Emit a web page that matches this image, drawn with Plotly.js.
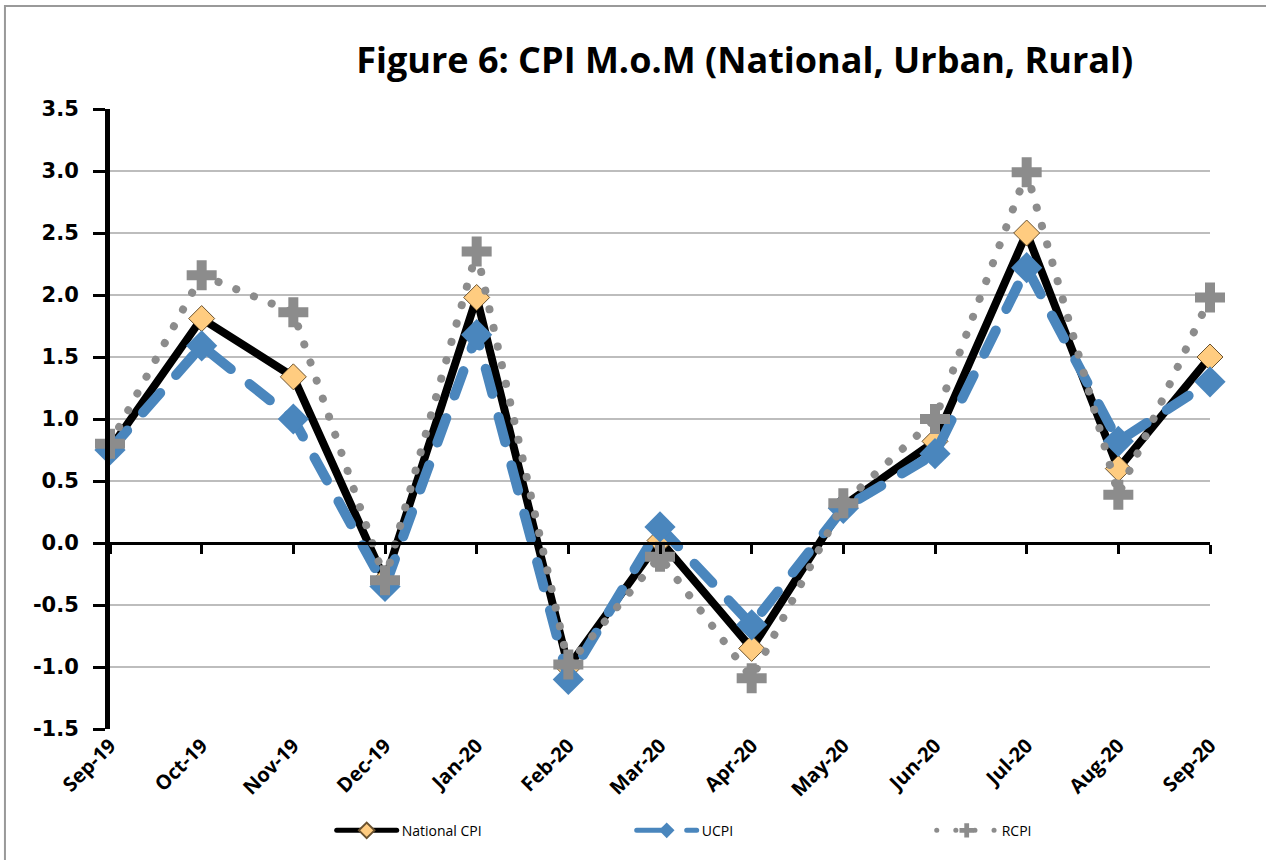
<!DOCTYPE html>
<html>
<head>
<meta charset="utf-8">
<script src="https://cdn.plot.ly/plotly-3.0.1.min.js"></script>
<style>
  html, body { margin: 0; padding: 0; background: #fff; }
  #chart { width: 1266px; height: 860px; }
  #chart .scatterlayer path.js-line { stroke-linecap: round; }
  #chart .legendlines path { stroke-linecap: round; }
</style>
</head>
<body>
<div id="chart"></div>
<script>
const months = ['Sep-19', 'Oct-19', 'Nov-19', 'Dec-19', 'Jan-20', 'Feb-20', 'Mar-20',
    'Apr-20', 'May-20', 'Jun-20', 'Jul-20', 'Aug-20', 'Sep-20'];

const nationalCpi = [0.76, 1.81, 1.34, -0.30, 1.98, -1.00, 0.02, -0.85, 0.30, 0.82, 2.50, 0.60, 1.50];
const urbanCpi = [0.75, 1.59, 1.00, -0.35, 1.68, -1.10, 0.13, -0.66, 0.28, 0.72, 2.22, 0.82, 1.30];
const ruralCpi = [0.80, 2.16, 1.86, -0.30, 2.35, -0.98, -0.11, -1.09, 0.32, 1.00, 2.99, 0.39, 1.98];

const yTicks = [-1.5, -1.0, -0.5, 0.0, 0.5, 1.0, 1.5, 2.0, 2.5, 3.0, 3.5];

const idx = months.map((_, i) => i);

const rural = {
    type: 'scatter',
    mode: 'lines+markers',
    name: 'RCPI',
    x: idx,
    y: ruralCpi,
    line: { color: '#8c8c8c', width: 8, dash: '0.1px,19px' },
    marker: { color: '#8c8c8c', symbol: 'cross', size: 25 },
    cliponaxis: false,
},
    urban = {
        type: 'scatter',
        mode: 'lines+markers',
        name: 'UCPI',
        x: idx,
        y: urbanCpi,
        line: { color: '#4a86bd', width: 10, dash: '26px,24px' },
        marker: { color: '#4a86bd', symbol: 'diamond', size: 24 },
        cliponaxis: false,
    },
    national = {
        type: 'scatter',
        mode: 'lines+markers',
        name: 'National CPI',
        x: idx,
        y: nationalCpi,
        line: { color: '#000000', width: 8 },
        marker: { color: '#ffcc80', symbol: 'diamond', size: 20, line: { color: '#6b5330', width: 1 } },
        cliponaxis: false,
    },
    // carries the tick marks drawn along the zero line
    zeroAxis = {
        type: 'scatter',
        mode: 'none',
        x: [0, 12],
        y: [0, 0],
        xaxis: 'x2',
        showlegend: false,
        hoverinfo: 'skip',
    };

const layout = {
    width: 1266,
    height: 860,
    margin: { l: 110, r: 56, t: 109, b: 131 },
    paper_bgcolor: '#ffffff',
    plot_bgcolor: '#ffffff',
    font: { family: 'Open Sans, DejaVu Sans, sans-serif', color: '#000' },
    title: {
        text: '<b>Figure 6: CPI M.o.M (National, Urban, Rural)</b>',
        font: { family: 'Open Sans, sans-serif', size: 36, color: '#000' },
        x: 0.577, xref: 'paper', xanchor: 'center',
        y: 0.93, yref: 'container', yanchor: 'middle',
    },
    xaxis: {
        range: [0, 12],
        automargin: false,
        tickmode: 'array',
        tickvals: idx,
        ticktext: months.map(m => `<b>${m}</b>`),
        tickangle: -45,
        tickfont: { family: 'Open Sans, sans-serif', size: 20, color: '#000' },
        showgrid: false,
        zeroline: false,
        showline: false,
        ticks: '',
        ticklen: 0,
    },
    xaxis2: {
        range: [0, 12],
        overlaying: 'x',
        anchor: 'free',
        position: 0.3,
        side: 'bottom',
        automargin: false,
        tickmode: 'array',
        tickvals: idx,
        ticks: 'outside',
        ticklen: 9,
        tickwidth: 3,
        tickcolor: '#000',
        showticklabels: false,
        showgrid: false,
        zeroline: false,
        showline: true,
        linecolor: '#000',
        linewidth: 3,
    },
    yaxis: {
        range: [-1.5, 3.5],
        automargin: false,
        tickmode: 'array',
        tickvals: yTicks,
        ticktext: yTicks.map(v => `<b>${v.toFixed(1)}</b>`),
        tickfont: { family: 'DejaVu Sans, sans-serif', size: 21, color: '#000' },
        ticklabelstandoff: 10,
        showgrid: true,
        gridcolor: '#bdbdbd',
        gridwidth: 2,
        zeroline: false,
        showline: true,
        linecolor: '#000',
        linewidth: 5,
        ticks: 'outside',
        ticklen: 12,
        tickwidth: 3,
        tickcolor: '#000',
    },
    showlegend: true,
    legend: {
        orientation: 'h',
        xref: 'container', yref: 'container',
        x: 0.262, xanchor: 'left',
        y: 0.034, yanchor: 'middle',
        traceorder: 'normal',
        entrywidth: 225,
        itemwidth: 60,
        itemsizing: 'constant',
        font: { family: 'Liberation Sans Narrow, Open Sans, sans-serif', size: 14, color: '#000' },
    },
    shapes: [{
        type: 'rect',
        xref: 'paper', yref: 'paper',
        x0: -0.0955, x1: 1.1,
        y0: -0.4, y1: 1.166,
        line: { color: '#999999', width: 2 },
        fillcolor: 'rgba(0,0,0,0)',
        layer: 'below',
    }],
};

Plotly.newPlot('chart', [national, urban, rural, zeroAxis], layout, { staticPlot: true });
</script>
</body>
</html>
